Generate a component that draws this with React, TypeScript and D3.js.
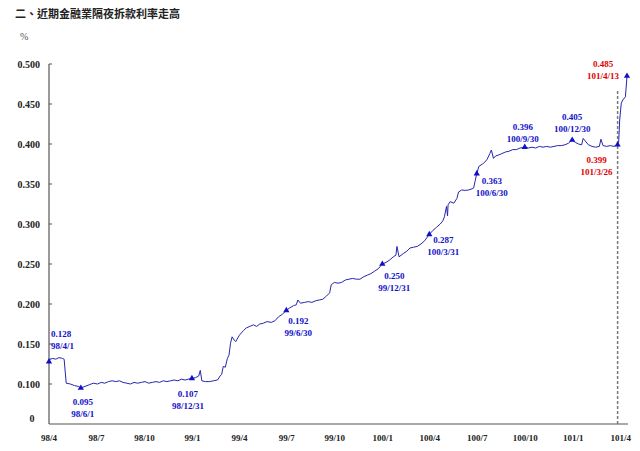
import React from "react";
import * as d3 from "d3";

// ---- Data (ROC year 98 = 2009) ----
const rateDates: string[] = [
  "2009-04-01","2009-04-03","2009-04-08","2009-04-14","2009-04-20","2009-04-27","2009-04-30",
  "2009-05-04","2009-05-12","2009-05-20","2009-05-27","2009-06-01","2009-06-09","2009-06-17","2009-06-25",
  "2009-07-03","2009-07-10","2009-07-17","2009-07-24","2009-07-31","2009-08-07","2009-08-14","2009-08-21","2009-08-28",
  "2009-09-04","2009-09-11","2009-09-18","2009-09-25","2009-10-02","2009-10-09","2009-10-16","2009-10-23","2009-10-30",
  "2009-11-06","2009-11-13","2009-11-20","2009-11-27","2009-12-04","2009-12-11","2009-12-18","2009-12-24","2009-12-31",
  "2010-01-07","2010-01-13","2010-01-16","2010-01-19","2010-01-26","2010-02-03","2010-02-10","2010-02-18","2010-02-23","2010-02-26",
  "2010-03-01","2010-03-05","2010-03-09","2010-03-12","2010-03-15","2010-03-18","2010-03-22","2010-03-25",
  "2010-04-01","2010-04-09","2010-04-14","2010-04-21","2010-04-28","2010-05-04","2010-05-10","2010-05-17","2010-05-24",
  "2010-06-01","2010-06-08","2010-06-15","2010-06-22","2010-06-30","2010-07-06","2010-07-14","2010-07-19","2010-07-22","2010-07-27",
  "2010-08-04","2010-08-11","2010-08-18","2010-08-25","2010-09-01","2010-09-08","2010-09-15","2010-09-21","2010-09-24","2010-09-30",
  "2010-10-07","2010-10-14","2010-10-21","2010-10-28","2010-11-04","2010-11-11","2010-11-18","2010-11-25",
  "2010-12-02","2010-12-09","2010-12-16","2010-12-23","2010-12-31",
  "2011-01-07","2011-01-14","2011-01-21","2011-01-26","2011-01-28","2011-02-01","2011-02-09","2011-02-16","2011-02-22",
  "2011-03-01","2011-03-08","2011-03-15","2011-03-22","2011-03-31","2011-04-07","2011-04-14","2011-04-21","2011-04-26","2011-04-29",
  "2011-05-03","2011-05-05","2011-05-06","2011-05-10","2011-05-17","2011-05-23","2011-05-26",
  "2011-06-01","2011-06-08","2011-06-14","2011-06-21","2011-06-24","2011-06-27","2011-06-30",
  "2011-07-04","2011-07-11","2011-07-15","2011-07-20","2011-07-25","2011-07-28","2011-08-01","2011-08-05","2011-08-10","2011-08-17","2011-08-24","2011-08-31",
  "2011-09-07","2011-09-14","2011-09-21","2011-09-30","2011-10-07","2011-10-14","2011-10-21","2011-10-28",
  "2011-11-04","2011-11-11","2011-11-18","2011-11-25","2011-12-02","2011-12-09","2011-12-16","2011-12-23","2011-12-30",
  "2012-01-05","2012-01-11","2012-01-17","2012-01-20","2012-01-30","2012-02-06","2012-02-13","2012-02-20","2012-02-23","2012-02-27",
  "2012-03-05","2012-03-12","2012-03-19","2012-03-26","2012-03-28","2012-03-30","2012-04-02","2012-04-05","2012-04-10","2012-04-13",
];
const rateValues: number[] = [
  0.128,0.131,0.132,0.131,0.133,0.132,0.131,
  0.101,0.100,0.098,0.097,0.095,0.097,0.099,0.101,
  0.100,0.102,0.101,0.103,0.104,0.103,0.104,0.102,0.101,
  0.100,0.102,0.101,0.102,0.103,0.101,0.102,0.103,0.102,
  0.104,0.103,0.104,0.105,0.104,0.106,0.105,0.106,0.107,
  0.108,0.110,0.117,0.104,0.103,0.103,0.104,0.105,0.110,0.112,
  0.122,0.121,0.132,0.136,0.151,0.159,0.155,0.153,
  0.161,0.167,0.170,0.172,0.174,0.172,0.175,0.176,0.178,
  0.177,0.179,0.184,0.187,0.192,0.195,0.198,0.199,0.205,0.201,
  0.202,0.203,0.202,0.204,0.205,0.206,0.210,0.214,0.224,0.227,
  0.226,0.227,0.230,0.231,0.232,0.231,0.231,0.234,
  0.236,0.238,0.241,0.244,0.250,
  0.252,0.255,0.259,0.261,0.272,0.259,0.263,0.266,0.270,
  0.271,0.272,0.275,0.279,0.287,0.292,0.296,0.300,0.304,0.309,
  0.322,0.310,0.324,0.328,0.326,0.332,0.340,
  0.3425,0.342,0.3425,0.344,0.345,0.354,0.363,
  0.372,0.375,0.377,0.381,0.388,0.3925,0.382,0.385,0.386,0.388,0.390,0.391,
  0.393,0.393,0.395,0.396,0.395,0.396,0.395,0.397,
  0.396,0.397,0.396,0.397,0.398,0.398,0.399,0.401,0.405,
  0.402,0.400,0.399,0.407,0.399,0.397,0.396,0.397,0.406,0.398,
  0.397,0.398,0.397,0.399,0.402,0.430,0.451,0.455,0.459,0.485,
];

// Annotated points
const markerDates: string[] = [
  "2009-04-01","2009-06-01","2009-12-31","2010-06-30","2010-12-31","2011-03-31",
  "2011-06-30","2011-09-30","2011-12-30","2012-03-26","2012-04-13",
];
const markerValues: number[] = [0.128,0.095,0.107,0.192,0.250,0.287,0.363,0.396,0.405,0.399,0.485];
const markerValueLabels: string[] = ["0.128","0.095","0.107","0.192","0.250","0.287","0.363","0.396","0.405","0.399","0.485"];
const markerDateLabels: string[] = [
  "98/4/1","98/6/1","98/12/31","99/6/30","99/12/31","100/3/31",
  "100/6/30","100/9/30","100/12/30","101/3/26","101/4/13",
];
const markerHighlight: boolean[] = [false,false,false,false,false,false,false,false,false,true,true];

// Axis ticks
const yTickValues: number[] = [0.05,0.1,0.15,0.2,0.25,0.3,0.35,0.4,0.45,0.5];
const yTickLabels: string[] = ["0","0.100","0.150","0.200","0.250","0.300","0.350","0.400","0.450","0.500"];
const xTickDates: string[] = [
  "2009-04-01","2009-07-01","2009-10-01","2010-01-01","2010-04-01","2010-07-01","2010-10-01",
  "2011-01-01","2011-04-01","2011-07-01","2011-10-01","2012-01-01","2012-04-01",
];
const xTickLabels: string[] = ["98/4","98/7","98/10","99/1","99/4","99/7","99/10","100/1","100/4","100/7","100/10","101/1","101/4"];

const titleText = "二、近期金融業隔夜拆款利率走高";
const unitText = "%";

// ---- Layout (label offsets relative to marker: [dx, dy of first line], anchor) ----
const labelLayout: { dx: number; dy: number; anchor: "start" | "middle" }[] = [
  { dx: 2, dy: -25, anchor: "start" },
  { dx: 2, dy: 17, anchor: "middle" },
  { dx: -4, dy: 19, anchor: "middle" },
  { dx: 12, dy: 14, anchor: "middle" },
  { dx: 12, dy: 15, anchor: "middle" },
  { dx: 14, dy: 9, anchor: "middle" },
  { dx: 15, dy: 10, anchor: "middle" },
  { dx: -2, dy: -17, anchor: "middle" },
  { dx: 0, dy: -20, anchor: "middle" },
  { dx: -21, dy: 18, anchor: "middle" },
  { dx: -24, dy: -9, anchor: "middle" },
];

const W = 640;
const H = 451;
const X0 = 49;
const X1 = 627;
const Y_TOP = 64;
const Y_BOT = 424;

const parse = d3.timeParse("%Y-%m-%d");

export default function App() {
  const dates = rateDates.map((d) => parse(d) as Date);
  const x = d3
    .scaleTime()
    .domain([parse("2009-04-01") as Date, parse("2012-04-13") as Date])
    .range([X0, X1]);
  const y = d3.scaleLinear().domain([0.05, 0.5]).range([Y_BOT, Y_TOP]);

  const series = dates.map((d, i) => ({ d, v: rateValues[i] }));
  const line = d3
    .line<{ d: Date; v: number }>()
    .x((p) => x(p.d))
    .y((p) => y(p.v));

  const tri = d3.symbol().type(d3.symbolTriangle).size(17)() as string;

  const blue = "#1010C8";
  const red = "#E00000";
  const lineColor = "#2626AE";
  const serif = "'Liberation Serif','Times New Roman',serif";

  const dashX = x(parse("2012-03-26") as Date);

  return (
    <svg
      width={W}
      height={H}
      viewBox={`0 0 ${W} ${H}`}
      style={{ position: "absolute", left: 0, top: 0, background: "#fff" }}
    >
      <rect width={W} height={H} fill="#fff" />
      <text
        x={15}
        y={18}
        fontFamily="'Noto Sans CJK TC','Noto Sans CJK SC',sans-serif"
        fontWeight="bold"
        fontSize={11}
        fill="#222"
      >
        {titleText}
      </text>
      <text x={20} y={40} fontFamily={serif} fontSize={10} fill="#555">
        {unitText}
      </text>

      {/* y axis */}
      <line x1={X0} x2={X0} y1={Y_TOP} y2={Y_BOT} stroke="#555" strokeWidth={1.2} />
      {yTickValues.map((v, i) => (
        <g key={"yt" + i}>
          {i > 0 && <line x1={X0} x2={X0 + 3} y1={y(v)} y2={y(v)} stroke="#555" strokeWidth={1} />}
          <text
            x={yTickLabels[i] === "0" ? 32 : 40}
            y={yTickLabels[i] === "0" ? y(v) - 2 : y(v) + 4}
            textAnchor={yTickLabels[i] === "0" ? "middle" : "end"}
            fontFamily={serif}
            fontWeight="bold"
            fontSize={10}
            fill="#222"
          >
            {yTickLabels[i]}
          </text>
        </g>
      ))}

      {/* x axis */}
      <line x1={X0} x2={X1 + 1} y1={Y_BOT} y2={Y_BOT} stroke="#555" strokeWidth={1.2} />
      {xTickDates.map((d, i) => (
        <text
          key={"xt" + i}
          x={x(parse(d) as Date)}
          y={441}
          textAnchor="middle"
          fontFamily={serif}
          fontWeight="bold"
          fontSize={9}
          fill="#222"
        >
          {xTickLabels[i]}
        </text>
      ))}

      {/* dashed marker line */}
      <line
        x1={dashX}
        x2={dashX}
        y1={91}
        y2={Y_BOT}
        stroke="#777"
        strokeWidth={1.5}
        strokeDasharray="3,2"
      />

      {/* series line */}
      <path d={line(series) as string} fill="none" stroke={lineColor} strokeWidth={1} />

      {/* markers and labels */}
      {markerDates.map((d, i) => {
        const px = x(parse(d) as Date);
        const py = y(markerValues[i]);
        const lay = labelLayout[i];
        const col = markerHighlight[i] ? red : blue;
        return (
          <g key={"m" + i}>
            <path d={tri} transform={`translate(${px},${py})`} fill={blue} />
            <text
              x={px + lay.dx}
              y={py + lay.dy}
              textAnchor={lay.anchor}
              fontFamily={serif}
              fontWeight="bold"
              fontSize={9}
              fill={col}
            >
              {markerValueLabels[i]}
            </text>
            <text
              x={px + lay.dx}
              y={py + lay.dy + 12}
              textAnchor={lay.anchor}
              fontFamily={serif}
              fontWeight="bold"
              fontSize={9}
              fill={col}
            >
              {markerDateLabels[i]}
            </text>
          </g>
        );
      })}
    </svg>
  );
}
